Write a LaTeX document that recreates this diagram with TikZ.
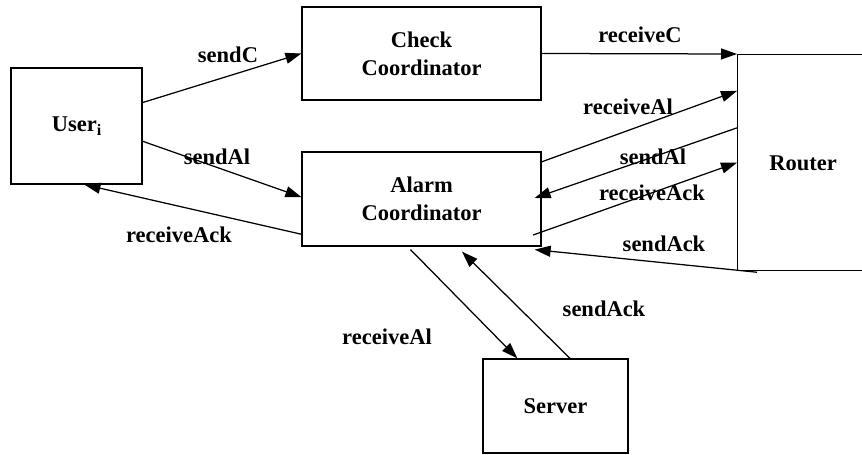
\documentclass[tikz,border=0pt]{standalone}
\usepackage{fontspec}
\setmainfont{Liberation Serif}
\usetikzlibrary{arrows.meta,calc}
\begin{document}
\begin{tikzpicture}[x=1pt,y=-1pt,
  font=\fontsize{22.5}{28}\selectfont\bfseries,
  box/.style={draw,line width=1.25pt,inner sep=0pt,align=center},
  flow/.style={line width=1.25pt,-{Triangle[length=16pt,width=11pt]}},
  lbl/.style={inner sep=0pt}]
\clip (0,0) rectangle (862,455);

% components
\node[box,minimum width=131pt,minimum height=116pt] (user) at (76.5,126)
  {User\raisebox{-0.4ex}{\fontsize{16}{16}\selectfont i}};
\node[box,minimum width=239pt,minimum height=93pt] (check) at (421.5,53.5)
  {Check\\Coordinator};
\node[box,minimum width=239pt,minimum height=94pt] (alarm) at (421.5,199)
  {Alarm\\Coordinator};
\node[box,minimum width=145pt,minimum height=94pt] (server) at (555.5,406)
  {Server};
\node[box,anchor=north west,minimum width=180pt,minimum height=216pt] (router) at (737,54) {};
\node[lbl] (routername) at (803,163) {Router};

% message flows
\draw[flow] ($(user.north east)!0.30!(user.south east)$) -- (check.west);
\draw[flow] ($(user.north east)!0.63!(user.south east)$) -- ($(alarm.north west)!0.48!(alarm.south west)$);
\draw[flow] ($(alarm.north west)!0.87!(alarm.south west)$) -- ($(user.south west)!0.56!(user.south east)$);
\draw[flow] (check.east) -- (router.north west);
\draw[flow] ($(alarm.north east)!0.11!(alarm.south east)$) -- ($(router.north west)!0.17!(router.south west)$);
\draw[flow] ($(router.north west)!0.34!(router.south west)$) -- ($(alarm.east)+(-7,-1)$);
\draw[flow] ($(alarm.east)+(-8.5,36)$) -- (router.west);
\draw[flow] ($(router.south west)+(20,1)$) -- ($(alarm.south east)+(-7,3)$);
\draw[flow] ($(alarm.south)+(-11,3)$) -- ($(server.north west)+(35,0)$);
\draw[flow] ($(server.north)+(14.5,0)$) -- ($(alarm.south)+(40.5,5)$);

% flow labels
\node[lbl] (lsendC) at (228,55) {sendC};
\node[lbl] (lreceiveC) at (640,35) {receiveC};
\node[lbl] (lrecAlR) at (628,107) {receiveAl};
\node[lbl] (lsendAlR) at (653,157) {sendAl};
\node[lbl] (lrecAckR) at (652,193) {receiveAck};
\node[lbl] (lsendAckR) at (664,244) {sendAck};
\node[lbl] (lsendAlL) at (217,157) {sendAl};
\node[lbl] (lrecAckL) at (179,235) {receiveAck};
\node[lbl] (lrecAlB) at (387,337) {receiveAl};
\node[lbl] (lsendAckB) at (604,309) {sendAck};
\end{tikzpicture}
\end{document}
